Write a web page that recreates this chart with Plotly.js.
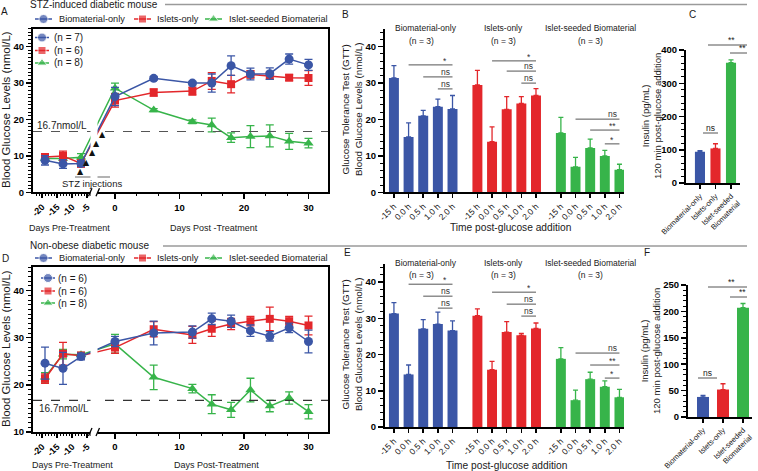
<!DOCTYPE html>
<html><head><meta charset="utf-8">
<script src="https://cdn.plot.ly/plotly-3.0.1.min.js"></script>
<style>html,body{margin:0;padding:0;background:#fff}#chart{width:758px;height:471px}</style>
</head><body><div id="chart"></div>
<script>
// ---------------- DATA ----------------
const seriesNames = ['Biomaterial-only', 'Islets-only', 'Islet-seeded Biomaterial'];
const nA = ['(n = 7)', '(n = 6)', '(n = 8)'];
const nD = ['(n = 6)', '(n = 6)', '(n = 8)'];
const preDays = [-19, -13, -7];
const postDays = [0, 6, 12, 15, 18, 21, 24, 27, 30];
const preTickDays = [-20, -15, -10, -5];
const preTickText = ['-20', '-15', '-10', '-5'];
const postTickDays = [0, 10, 20, 30];
const threshold = 16.7;

// Panel A (STZ-induced) : pre values then post values
const aBlue     = [8.8, 7.8, 7.9, 26.3, 31.3, 30.0, 30.0, 34.8, 32.5, 32.6, 36.6, 35.0];
const aBlueErr  = [1.3, 1.2, 0.8, 2.5, 0.5, 0.5, 2.5, 2.7, 1.6, 1.6, 1.4, 1.5];
const aRed      = [9.7, 10.0, 7.9, 25.2, 27.4, 27.8, 30.6, 29.7, 32.4, 32.0, 31.5, 31.4];
const aRedErr   = [0.9, 1.3, 1.0, 1.8, 1.0, 1.1, 2.3, 2.4, 1.0, 1.0, 0.8, 2.0];
const aGreen    = [9.3, 9.3, 9.6, 28.6, 22.6, 19.4, 18.5, 15.0, 15.3, 15.5, 14.0, 13.5];
const aGreenErr = [0.6, 0.6, 1.0, 1.4, 0.4, 0.5, 1.9, 1.3, 3.0, 3.0, 2.2, 1.3];
// STZ injection arrowheads (axis units, glucose)
const stzX = [-5.3, -4.35, -3.55, -2.8, -1.9];
const stzY = [5.6, 8.3, 10.8, 13.3, 16.0];

// Panel D (NOD)
const dBlue     = [24.6, 23.5, 26.0, 29.2, 31.0, 31.2, 34.0, 33.5, 31.5, 30.3, 32.1, 29.2];
const dBlueErr  = [3.4, 3.4, 0.7, 1.1, 2.5, 1.3, 1.2, 1.3, 1.2, 1.0, 1.0, 2.4];
const dRed      = [21.3, 26.6, 26.2, 27.9, 31.8, 30.6, 31.9, 32.9, 33.5, 34.0, 33.5, 32.6];
const dRedErr   = [1.0, 2.4, 0.7, 1.2, 1.6, 1.8, 1.6, 1.2, 1.0, 2.5, 1.0, 2.0];
const dGreen    = [21.6, 26.5, 26.4, 28.7, 21.6, 19.2, 15.9, 14.7, 18.9, 15.5, 17.2, 14.3];
const dGreenErr = [1.0, 1.0, 0.5, 2.0, 2.6, 0.9, 2.0, 1.6, 2.5, 1.2, 1.3, 1.5];

// GTT panels B and E
const gttLabels = ['-15 h', '0.0 h', '0.5 h', '1.0 h', '2.0 h'];
const bBlue = [31.4, 15.2, 21.0, 23.5, 22.9], bBlueErr = [3.4, 3.9, 1.5, 2.1, 3.7];
const bRed = [29.5, 13.9, 22.8, 24.4, 26.6], bRedErr = [4.0, 4.1, 3.5, 1.9, 1.9];
const bGreen = [16.3, 7.0, 12.2, 10.0, 6.2], bGreenErr = [4.3, 2.6, 2.4, 1.5, 1.5];
const eBlue = [31.3, 14.5, 27.1, 28.4, 26.6], eBlueErr = [3.0, 2.6, 2.5, 3.3, 2.7];
const eRed = [30.7, 15.8, 26.2, 25.3, 27.2], eRedErr = [1.9, 2.3, 2.9, 0.5, 1.5];
const eGreen = [18.8, 7.4, 13.2, 11.1, 8.2], eGreenErr = [3.1, 2.8, 1.9, 1.6, 2.2];
// significance brackets: [group, from bar, to bar, y, label]
const sigB = [[0,1,4,35.0,'*'],[0,2,4,31.7,'ns'],[0,3,4,28.4,'ns'],
              [1,1,4,36.1,'*'],[1,2,4,33.3,'ns'],[1,3,4,30.0,'ns'],
              [2,1,4,20.1,'ns'],[2,2,4,17.1,'**'],[2,3,4,13.3,'*']];
const sigE = [[0,1,4,39.4,'*'],[0,2,4,36.1,'ns'],[0,3,4,32.8,'ns'],
              [1,1,4,37.2,'*'],[1,2,4,33.9,'ns'],[1,3,4,30.6,'ns'],
              [2,1,4,20.4,'ns'],[2,2,4,17.1,'**'],[2,3,4,13.5,'*']];

// Insulin panels C and F
const insulinCats = ['Biomaterial-only', 'Islets-only', 'Islet-seeded<br>Biomaterial'];
const cVals = [94, 104, 362], cErr = [3, 14, 8];
const fVals = [38, 52, 207], fErr = [3, 11, 8];

// ---------------- STYLE / LAYOUT HELPERS ----------------
const W = 758, H = 471;
const FONT = 'Liberation Sans, Arial, sans-serif';
const BLUE = '#3B56A6', RED = '#E3272B', GREEN = '#37B44A';
const COLORS = [BLUE, RED, GREEN];
const SYMBOLS = ['circle', 'square', 'triangle-up'];
const px = v => v / W, py = v => 1 - v / H;
const dX = (a, b) => [px(a), px(b)];
const dY = (top, bot) => [py(bot), py(top)];

// broken x axis: units are post-treatment days, pre-treatment days are compressed
const POST_PX = 6.45, PRE_PX = 3, ZERO_PX = 115, PRE_M20_PX = 42;
const mapPre = d => (PRE_M20_PX + (d + 20) * PRE_PX - ZERO_PX) / POST_PX;
const XR = [(33 - ZERO_PX) / POST_PX, (328 - ZERO_PX) / POST_PX];
const xAll = preDays.map(mapPre).concat(postDays);
const preMinor = []; for (let d = -22; d <= -4; d++) preMinor.push(mapPre(d));
const postMinor = [10/3, 20/3, 40/3, 50/3, 70/3, 80/3];

const GROUP_STEP = 5.7;
const gpos = g => gttLabels.map((_, i) => g * GROUP_STEP + i);

const traces = [];
function lineSet(ys, errs, xa, ya) {
  [2, 1, 0].forEach(k => {
    traces.push({type: 'scatter', mode: 'lines+markers', x: xAll, y: ys[k], xaxis: xa, yaxis: ya,
      line: {color: COLORS[k], width: 1.5}, marker: {color: COLORS[k], symbol: SYMBOLS[k], size: k === 1 ? 8 : 9},
      error_y: {type: 'data', array: errs[k], visible: true, color: COLORS[k], thickness: 1.3, width: 4},
      cliponaxis: false, showlegend: false, hoverinfo: 'skip'});
  });
}
lineSet([aBlue, aRed, aGreen], [aBlueErr, aRedErr, aGreenErr], 'x', 'y');
lineSet([dBlue, dRed, dGreen], [dBlueErr, dRedErr, dGreenErr], 'x4', 'y4');
// empty traces that register the tick-only overlay axes
[['x7', 'y'], ['x10', 'y'], ['x8', 'y4'], ['x11', 'y4']].forEach(([xa, ya]) =>
  traces.push({type: 'scatter', mode: 'markers', x: [0], y: [null], xaxis: xa, yaxis: ya, showlegend: false, hoverinfo: 'skip'}));

function barSet(vals, errs, xa, ya) {
  vals.forEach((v, g) => {
    traces.push({type: 'bar', x: gpos(g), y: v, width: 0.68, xaxis: xa, yaxis: ya,
      marker: {color: COLORS[g], line: {width: 0}},
      error_y: {type: 'data', symmetric: false, array: errs[g], arrayminus: errs[g].map(() => 0),
                visible: true, color: COLORS[g], thickness: 1.3, width: 2.5},
      showlegend: false, hoverinfo: 'skip'});
  });
}
barSet([bBlue, bRed, bGreen], [bBlueErr, bRedErr, bGreenErr], 'x2', 'y2');
barSet([eBlue, eRed, eGreen], [eBlueErr, eRedErr, eGreenErr], 'x5', 'y5');

function insulinSet(vals, errs, xa, ya, w) {
  vals.forEach((v, i) => {
    traces.push({type: 'bar', x: [i], y: [v], width: w, xaxis: xa, yaxis: ya,
      marker: {color: COLORS[i], line: {width: 0}},
      error_y: {type: 'data', symmetric: false, array: [errs[i]], arrayminus: [0],
                visible: true, color: COLORS[i], thickness: 1.3, width: 2.5},
      showlegend: false, hoverinfo: 'skip'});
  });
}
insulinSet(cVals, cErr, 'x3', 'y3', 0.65);
insulinSet(fVals, fErr, 'x6', 'y6', 0.6);

// legend swatches on a full-figure overlay axis (pixel units)
function swatch(cx, cy, k, half) {
  traces.push({type: 'scatter', mode: 'lines+markers', x: [cx - half, cx, cx + half], y: [cy, cy, cy],
    xaxis: 'x9', yaxis: 'y9', line: {color: COLORS[k], width: 1.5},
    marker: {color: COLORS[k], symbol: SYMBOLS[k], size: [0, k === 1 ? 8 : 9, 0]},
    cliponaxis: false, showlegend: false, hoverinfo: 'skip'});
}
const annotations = [];
function T(text, x, y, size, o) {
  const a = Object.assign({text: text, x: px(x), y: py(y), xref: 'paper', yref: 'paper', showarrow: false,
    xanchor: 'center', yanchor: 'middle', font: {family: FONT, size: size, color: '#1a1a1a'}}, o || {});
  annotations.push(a); return a;
}
const mainLegX = [[43.5, 57], [142.5, 155], [213.5, 227]];
[19, 258].forEach(yy => {
  mainLegX.forEach(([mx, tx], k) => { swatch(mx, yy, k, 8.5); T(seriesNames[k], tx, yy, 9.2, {xanchor: 'left'}); });
});
[[42, 52, [37.5, 50.5, 63], nA], [48, 56, [278, 291, 303], nD]].forEach(([mx, tx, ys, labels]) => {
  ys.forEach((yy, k) => { swatch(mx, yy, k, 7); T(labels[k], tx, yy, 10, {xanchor: 'left'}); });
});

// titles, panel letters, axis titles
T('STZ-induced diabetic mouse', 28, 5, 10, {xanchor: 'left'});
T('Non-obese diabetic mouse', 28, 245, 10, {xanchor: 'left'});
T('A', 4, 12, 10); T('B', 345, 15, 10); T('C', 692, 15, 10);
T('D', 5, 258, 10); T('E', 347, 252, 10); T('F', 647, 252, 10);
T('Blood Glucose Levels (nmol/L)', 6, 110, 11.5, {textangle: -90});
T('Blood Glucose Levels (nmol/L)', 6, 349, 11.5, {textangle: -90});
T('Days Pre-Treatment', 69, 228, 9); T('Days Post -Treatment', 214, 228, 9);
T('Days Pre-Treatment', 72, 465, 9); T('Days Post-Treatment', 216, 465, 9);
T('Glucose Tolerance Test (GTT)<br>Blood Glucose Levels (nmol/L)', 352, 110, 9.8, {textangle: -90});
T('Glucose Tolerance Test (GTT)<br>Blood Glucose Levels (nmol/L)', 352, 345, 9.8, {textangle: -90});
T('Time post-glucose addition', 510, 227, 10.2);
T('Time post-glucose addition', 506, 465, 10.2);
T('Insulin (pg/mL)<br>120 min post-glucose addition', 652, 116, 9.5, {textangle: -90});
T('Insulin (pg/mL)<br>120 min post-glucose addition', 650, 351, 9.5, {textangle: -90});
// group titles in B / E
[[28, 41], [263, 275]].forEach(([y1, y2]) => {
  T(seriesNames[0], 426, y1, 8.5); T('(n = 3)', 421, y2, 8.5);
  T(seriesNames[1], 503, y1, 8.5); T('(n = 3)', 503, y2, 8.5);
  T(seriesNames[2], 590, y1, 8.5); T('(n = 3)', 590, y2, 8.5);
});
// threshold labels
annotations.push({text: '16.7nmol/L', x: px(35), y: threshold, xref: 'paper', yref: 'y', xanchor: 'left', yanchor: 'bottom',
  yshift: -1, showarrow: false, font: {family: FONT, size: 10, color: '#222'}});
annotations.push({text: '16.7nmol/L', x: px(37), y: threshold, xref: 'paper', yref: 'y4', xanchor: 'left', yanchor: 'top',
  yshift: -1, showarrow: false, font: {family: FONT, size: 10, color: '#222'}});
T('STZ injections', 92, 183, 9.5);
stzX.forEach((x, i) => annotations.push({text: '▲', x: x, y: stzY[i], xref: 'x', yref: 'y', showarrow: false,
  font: {family: 'DejaVu Sans', size: 8, color: '#111'}}));

const shapes = [];
const Lpx = (x0, y0, x1, y1, color, width, extra) => shapes.push(Object.assign({type: 'line', xref: 'paper', yref: 'paper',
  x0: px(x0), y0: py(y0), x1: px(x1), y1: py(y1), line: {color: color, width: width}}, extra || {}));
Lpx(165, 4.5, 747, 4.5, '#9a9a9a', 1.5);
Lpx(163, 246, 747, 246, '#9a9a9a', 1.5);
Lpx(75, 177, 110, 177, '#9a9a9a', 1.3);
shapes.push({type: 'line', xref: 'x domain', yref: 'y', x0: 0, x1: 1, y0: threshold, y1: threshold, line: {color: '#555', width: 1.2, dash: 'dash'}});
shapes.push({type: 'line', xref: 'x4 domain', yref: 'y4', x0: 0, x1: 1, y0: threshold, y1: threshold, line: {color: '#333', width: 1.2, dash: 'dash'}});
// axis breaks
[[192.3, 112], [432, 336]].forEach(([yb, yt]) => {
  shapes.push({type: 'rect', xref: 'paper', yref: 'paper', x0: px(90.5), x1: px(97.5), y0: py(yb + 9), y1: py(yt),
    fillcolor: '#fff', line: {width: 0}, layer: 'above'});
  Lpx(88.5, yb + 4, 92, yb - 4, '#000', 1.3, {layer: 'above'});
  Lpx(96, yb + 4, 99.5, yb - 4, '#000', 1.3, {layer: 'above'});
});
// significance brackets B/E (data coords)
function sig(list, xa, ya) {
  list.forEach(([g, a, b, y, lab]) => {
    shapes.push({type: 'line', xref: xa, yref: ya, x0: g * GROUP_STEP + a, x1: g * GROUP_STEP + b, y0: y, y1: y,
      line: {color: '#555', width: 1}});
    const star = lab !== 'ns';
    annotations.push(Object.assign({text: lab, x: g * GROUP_STEP + 3.5, y: y, xref: xa, yref: ya, xanchor: 'center', yanchor: 'bottom',
      yshift: star ? 0 : -2, showarrow: false, font: {family: FONT, size: 8.5, color: '#333'}},
      star ? {height: 8, valign: 'top', borderpad: 0} : {}));
  });
}
sig(sigB, 'x2', 'y2'); sig(sigE, 'x5', 'y5');
// significance C/F (pixel positions)
const sigCF = [[703, 718, 133, 'ns'], [708, 747, 45, '**'], [730, 747, 53, '**'],
               [698, 717, 378, 'ns'], [708, 747, 287, '**'], [730, 747, 297, '**']];
sigCF.forEach(([a, b, y, lab]) => { Lpx(a, y, b, y, '#555', 1); T(lab, (a + b) / 2 + (lab === 'ns' ? 0 : 4), y - 5, 8.5); });

// ---------------- AXES ----------------
const tickBold = {family: FONT, size: 9.5, color: '#000', weight: 'bold'};
const base = {showline: true, linecolor: '#000', linewidth: 2, ticks: 'outside', tickcolor: '#000', tickwidth: 1.5, ticklen: 5,
  showgrid: false, zeroline: false, fixedrange: true, tickfont: tickBold};
const ax = o => Object.assign({}, base, o);
function brokenX(domainPx, anchor) {
  return ax({domain: dX(...domainPx), range: XR, anchor: anchor, tickmode: 'array', tickvals: postTickDays,
    ticktext: postTickDays.map(String), mirror: true});
}
function preOverlay(over, anchor) {
  return ax({overlaying: over, anchor: anchor, range: XR, showline: false, tickmode: 'array',
    tickvals: preTickDays.map(mapPre), ticktext: preTickText, tickangle: -45,
    tickfont: {family: FONT, size: 9, color: '#000', weight: 'bold'}});
}
function minorOverlay(over, anchor) {
  return ax({overlaying: over, anchor: anchor, range: XR, showline: false, tickmode: 'array',
    tickvals: preMinor.concat(postMinor), showticklabels: false, ticklen: 3, tickwidth: 1});
}
const gttTickVals = [0, 1, 2].flatMap(gpos);
const gttTickText = [0, 1, 2].flatMap(() => gttLabels);
const gttX = (anchor) => ax({domain: dX(385, 624), range: [-0.61, 15.71], anchor: anchor, tickmode: 'array',
  tickvals: gttTickVals, ticktext: gttTickText, tickangle: -45, ticklen: 4,
  tickfont: {family: FONT, size: 8.5, color: '#111'}});
const catX = (d, r, anchor) => ax({domain: dX(...d), range: r, anchor: anchor, tickmode: 'array', tickvals: [0, 1, 2],
  ticktext: insulinCats, tickangle: -45, ticklen: 4, tickfont: {family: FONT, size: 7.5, color: '#111'}});

const layout = {
  width: W, height: H, margin: {l: 0, r: 0, t: 0, b: 0}, paper_bgcolor: '#fff', plot_bgcolor: 'rgba(0,0,0,0)',
  showlegend: false, barmode: 'overlay', font: {family: FONT},
  xaxis: brokenX([33, 328], 'y'),
  yaxis: ax({domain: dY(28.5, 192.3), range: [0, 45], anchor: 'x', tickmode: 'linear', tick0: 0, dtick: 10, mirror: true,
    minor: {dtick: 1, ticks: 'outside', ticklen: 3, tickwidth: 1, tickcolor: '#000'}}),
  xaxis7: preOverlay('x', 'y'),
  xaxis10: minorOverlay('x', 'y'),
  xaxis2: gttX('y2'),
  yaxis2: ax({domain: dY(28.5, 192.3), range: [0, 45], anchor: 'x2', tickmode: 'linear', tick0: 0, dtick: 10,
    minor: {dtick: 2, ticks: 'outside', ticklen: 3, tickwidth: 1, tickcolor: '#000'}}),
  xaxis3: catX([686, 740], [-0.9, 2.58], 'y3'),
  yaxis3: ax({domain: dY(50, 183), range: [0, 400], anchor: 'x3', tickmode: 'linear', tick0: 0, dtick: 100,
    minor: {dtick: 20, ticks: 'outside', ticklen: 3, tickwidth: 1, tickcolor: '#000'}}),
  xaxis4: brokenX([33, 328], 'y4'),
  yaxis4: ax({domain: dY(267, 432), range: [10, 45], anchor: 'x4', tickmode: 'linear', tick0: 10, dtick: 10, mirror: true,
    minor: {dtick: 1, ticks: 'outside', ticklen: 3, tickwidth: 1, tickcolor: '#000'}}),
  xaxis8: preOverlay('x4', 'y4'),
  xaxis11: minorOverlay('x4', 'y4'),
  xaxis5: gttX('y5'),
  yaxis5: ax({domain: dY(263.9, 427), range: [0, 45], anchor: 'x5', tickmode: 'linear', tick0: 0, dtick: 10,
    minor: {dtick: 2, ticks: 'outside', ticklen: 3, tickwidth: 1, tickcolor: '#000'}}),
  xaxis6: catX([688, 752], [-0.75, 2.45], 'y6'),
  yaxis6: ax({domain: dY(285, 417), range: [0, 250], anchor: 'x6', tickmode: 'linear', tick0: 0, dtick: 50,
    minor: {dtick: 10, ticks: 'outside', ticklen: 3, tickwidth: 1, tickcolor: '#000'}}),
  xaxis9: {domain: [0, 1], range: [0, W], visible: false, fixedrange: true, anchor: 'y9'},
  yaxis9: {domain: [0, 1], range: [H, 0], visible: false, fixedrange: true, anchor: 'x9'},
  annotations: annotations, shapes: shapes
};
Plotly.newPlot('chart', traces, layout, {staticPlot: true, displayModeBar: false});
</script></body></html>
